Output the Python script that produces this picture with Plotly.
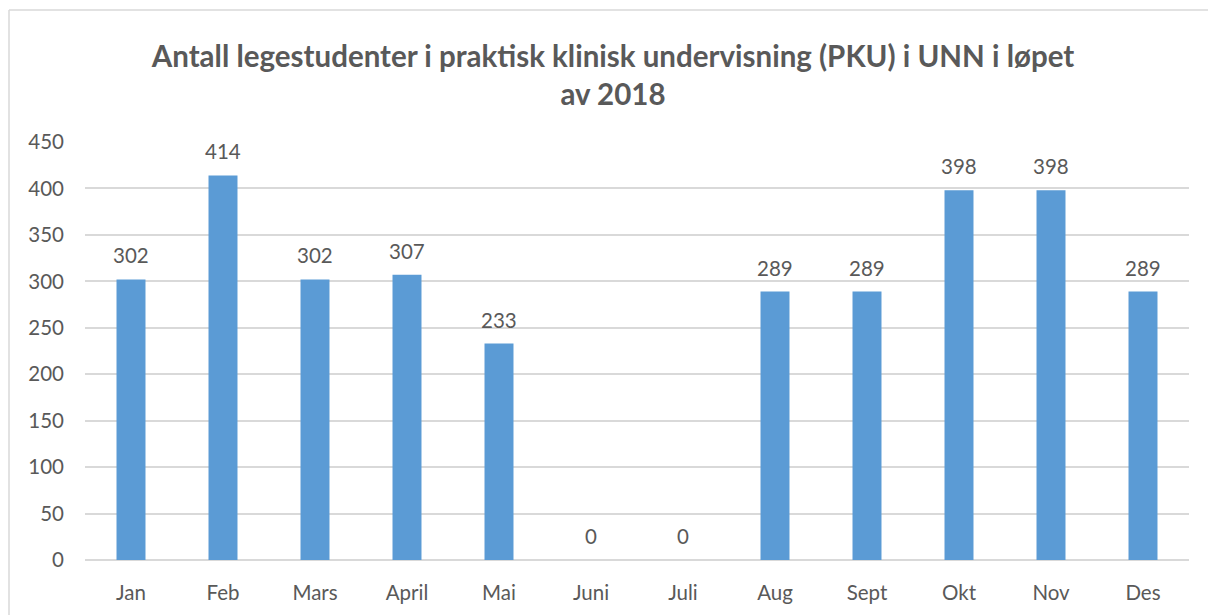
import plotly.graph_objects as go

months = ["Jan", "Feb", "Mars", "April", "Mai", "Juni", "Juli", "Aug", "Sept", "Okt", "Nov", "Des"]
students = [302, 414, 302, 307, 233, 0, 0, 289, 289, 398, 398, 289]
y_ticks = [0, 50, 100, 150, 200, 250, 300, 350, 400, 450]
title_lines = ["Antall legestudenter i praktisk klinisk undervisning (PKU) i UNN i løpet", "av 2018"]

TXT = "#595959"
FONT = "Lato"

fig = go.Figure()
fig.add_trace(go.Bar(
    x=months, y=students,
    marker=dict(color="#5B9BD5", line=dict(width=0)),
    hoverinfo="x+y",
))

for m, v in zip(months, students):
    fig.add_annotation(x=m, y=v, text=str(v), showarrow=False,
                       xref="x", yref="y", yanchor="bottom", yshift=10,
                       font=dict(family=FONT, size=20.5, color=TXT))

bx0 = (9 - 85) / 1104
by1 = 1 + (142 - 10) / 418
border = dict(color="#D9D9D9", width=1.5)

fig.update_layout(
    width=1208, height=615,
    margin=dict(l=85, r=19, t=142, b=55),
    paper_bgcolor="white", plot_bgcolor="white",
    bargap=0.685,
    showlegend=False,
    title=dict(text="<b>" + "<br>".join(title_lines) + "</b>",
               x=613 / 1208, xanchor="center", xref="container",
               y=1 - 66.5 / 615, yanchor="middle", yref="container",
               font=dict(family=FONT, size=29.5, color=TXT)),
    xaxis=dict(showgrid=False, showline=False, zeroline=False, ticks="",
               tickfont=dict(family=FONT, size=20.5, color=TXT),
               ticklabelstandoff=18),
    yaxis=dict(range=[0, 450], tickvals=y_ticks, showgrid=True,
               gridcolor="#D9D9D9", gridwidth=1.5, zeroline=True,
               zerolinecolor="#D9D9D9", zerolinewidth=1.5, showline=False,
               ticks="", tickfont=dict(family=FONT, size=20.5, color=TXT),
               ticklabelstandoff=20),
    shapes=[
        dict(type="line", xref="paper", yref="paper", x0=bx0, x1=1.05,
             y0=by1, y1=by1, line=border, layer="below"),
        dict(type="line", xref="paper", yref="paper", x0=bx0, x1=bx0,
             y0=-0.2, y1=by1, line=border, layer="below"),
    ],
)

fig.write_html(
    "out.html", config={"displayModeBar": False},
    post_script=("document.documentElement.style.overflow='hidden';"
                 "document.body.style.margin='0';document.body.style.padding='0';"
                 "document.body.style.overflow='hidden';"),
)
